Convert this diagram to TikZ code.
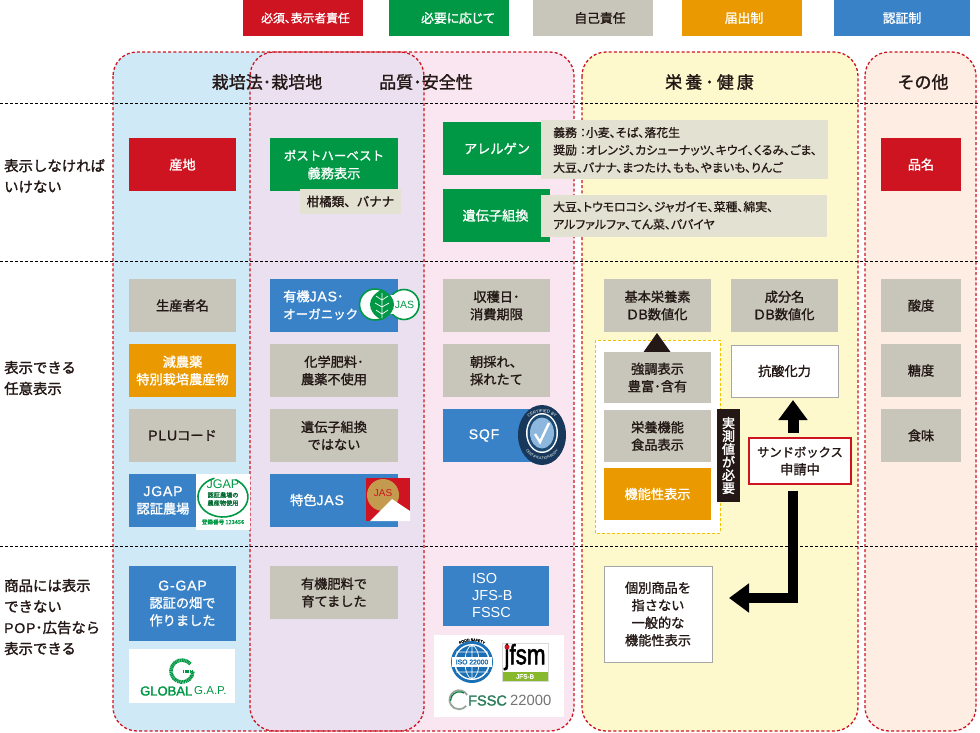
\documentclass[tikz,border=0pt]{standalone}
\usepackage{fontspec}
\usepackage{graphicx}
\usetikzlibrary{arrows.meta,decorations.text}
\setmainfont{Noto Sans CJK JP}[FakeBold=1.4]
\newfontfamily\bfj{Noto Sans CJK JP}[FakeBold=2]
\newfontfamily\pf{Noto Sans CJK JP}[RawFeature=+palt,FakeBold=0.8]
\newfontfamily\pfb{Noto Sans CJK JP}[RawFeature=+palt,FakeBold=1.4]
\newfontfamily\hs{Noto Sans CJK JP}[LetterSpace=18,FakeBold=1.4]
\newfontfamily\lat{Liberation Sans}
\newfontfamily\latb{Liberation Sans}[FakeBold=2]
\newfontfamily\ltw{Liberation Sans}[LetterSpace=6,FakeBold=1]
\newcommand{\lt}[1]{{\ltw\fontsize{14}{17.5}\selectfont #1}}
\definecolor{cred}{HTML}{CE1420}
\definecolor{cgreen}{HTML}{009844}
\definecolor{cgray}{HTML}{C8C6BA}
\definecolor{clight}{HTML}{E3E1D1}
\definecolor{corange}{HTML}{EA9A00}
\definecolor{cblue}{HTML}{3982C7}
\definecolor{pblue}{HTML}{CFE9F7}
\definecolor{ppink}{HTML}{FAE6F0}
\definecolor{plav}{HTML}{EBE0EF}
\definecolor{pyel}{HTML}{FEF8CD}
\definecolor{ppeach}{HTML}{FDEDE3}
\definecolor{ink}{HTML}{231815}
\definecolor{ctan}{HTML}{C49A4F}
\definecolor{cnavy}{HTML}{17385A}
\definecolor{cnavyb}{HTML}{1C4A72}
\definecolor{csky}{HTML}{8DB7DD}
\definecolor{ciso}{HTML}{1A6FB5}
\definecolor{cjfs}{HTML}{88B82B}
\definecolor{cfsg}{HTML}{9AA59D}
\definecolor{cfst}{HTML}{2E7D5B}
\tikzset{
 bxs/.style={inner sep=0pt,outer sep=0pt,align=center,font=\fontsize{13.2}{17.5}\selectfont,text=ink},
 redb/.style={bxs,fill=cred,text=white},
 greenb/.style={bxs,fill=cgreen,text=white},
 grayb/.style={bxs,fill=cgray},
 orangeb/.style={bxs,fill=corange,text=white},
 blueb/.style={bxs,fill=cblue,text=white},
 whiteb/.style={bxs,fill=white,draw=black!35,line width=.7pt},
 lightb/.style={bxs,fill=clight},
 plainw/.style={fill=white,inner sep=0pt,outer sep=0pt},
 rowlab/.style={anchor=west,align=left,inner sep=0pt,font=\fontsize{14.4}{21}\selectfont,text=ink},
 head/.style={inner sep=0pt,font=\fontsize{17}{18}\selectfont,text=ink},
 wtxt/.style={inner sep=0pt,text=white,align=center,font=\fontsize{13.2}{17.5}\selectfont},
 listtxt/.style={anchor=west,align=left,inner sep=0pt,text=ink,font=\pf\fontsize{11.9}{17.5}\selectfont},
 rowline/.style={black,line width=.7pt,dash pattern=on 3pt off 2pt},
 paneldash/.style={draw=cred,line width=1.3pt,dash pattern=on 3pt off 2.2pt},
 bigarrow/.style={line width=10pt,-{Triangle[width=28pt,length=20pt]},black},
}
% name, x0, y0, x1, y1, style, text
\newcommand{\bx}[7]{%
 \pgfmathsetmacro{\cxx}{(#2+#4)/2}\pgfmathsetmacro{\cyy}{(#3+#5)/2}%
 \pgfmathsetmacro{\wdd}{#4-#2}\pgfmathsetmacro{\htt}{#5-#3}%
 \node[#6,minimum width=\wdd pt,minimum height=\htt pt] (#1) at (\cxx,\cyy) {#7};}
\begin{document}
\begin{tikzpicture}[x=1pt,y=-1pt]
\useasboundingbox (0,0) rectangle (980,732);
\fill[white] (0,0) rectangle (980,732);
% panels
\fill[pblue,rounded corners=24pt] (113,52) rectangle (424,731);
\fill[ppink,rounded corners=24pt] (250,52) rectangle (574,731);
\begin{scope}
 \clip[rounded corners=24pt] (113,52) rectangle (424,731);
 \fill[plav,rounded corners=24pt] (250,52) rectangle (574,731);
\end{scope}
\fill[pyel,rounded corners=24pt] (582,52) rectangle (858,731);
\fill[ppeach,rounded corners=24pt] (865,52) rectangle (976,731);
\path[paneldash,rounded corners=24pt] (113,52) rectangle (424,731);
\path[paneldash,rounded corners=24pt] (250,52) rectangle (574,731);
\path[paneldash,rounded corners=24pt] (582,52) rectangle (858,731);
\path[paneldash,rounded corners=24pt] (865,52) rectangle (976,731);
% row lines
\coordinate (r1a) at (0,103); \coordinate (r1b) at (980,103);
\coordinate (r2a) at (0,261); \coordinate (r2b) at (980,261);
\coordinate (r3a) at (0,546); \coordinate (r3b) at (980,546);
\draw[rowline] (r1a) -- (r1b);
\draw[rowline] (r2a) -- (r2b);
\draw[rowline] (r3a) -- (r3b);
% legend
\bx{l1}{243}{0}{363}{36}{redb,font=\pfb\fontsize{11.8}{16}\selectfont}{\hspace*{5pt}必須、表示者責任}
\bx{l2}{389}{0}{509}{36}{greenb,font=\pfb\fontsize{12.8}{16}\selectfont}{\hspace*{18pt}必要に応じて}
\bx{l3}{533}{0}{653}{36}{grayb,font=\fontsize{12.8}{16}\selectfont}{\hspace*{14pt}自己責任}
\bx{l4}{682}{0}{802}{36}{orangeb,font=\fontsize{12.8}{16}\selectfont}{\hspace*{4pt}届出制}
\bx{l5}{834}{0}{970}{36}{blueb,font=\fontsize{12.8}{16}\selectfont}{認証制}
% headers
\node[head] (h1) at (267,82) {栽培法･栽培地};
\node[head] (h2) at (426,82) {品質･安全性};
\node[head,font=\hs\fontsize{17}{18}\selectfont] (h3) at (709.5,82) {栄養･健康};
\node[head] (h4) at (923,82) {その他};
% row labels
\node[rowlab] (t1) at (4,176) {表示しなければ\\いけない};
\node[rowlab] (t2) at (4,378) {表示できる\\任意表示};
\node[rowlab] (t3) at (4,617) {商品には表示\\できない\\\lt{POP}･広告なら\\表示できる};
% row 1
\bx{a1}{129}{138}{236}{191}{redb}{産地}
\bx{a2}{270}{138}{398}{191}{greenb,font=\fontsize{12.5}{18}\selectfont}{ポストハーベスト\\\fontsize{13.2}{18}\selectfont 義務表示}
\bx{a3}{300}{189}{401}{214}{lightb,font=\fontsize{12.5}{17.5}\selectfont}{柑橘類、バナナ}
\bx{a4}{443}{122}{541}{175}{greenb}{\hspace*{10pt}アレルゲン}
\bx{a5}{541}{120}{828}{179}{lightb}{}
\node[listtxt] (a5t) at (553,150) {義務\hspace{3pt}：小麦、そば、落花生\\奨励\hspace{3pt}：オレンジ、カシューナッツ、キウイ、くるみ、ごま、\\大豆、バナナ、まつたけ、もも、やまいも、りんご};
\bx{a6}{443}{189}{550}{242}{greenb}{\hspace*{-2pt}遺伝子組換}
\bx{a7}{541}{195}{827}{237}{lightb}{}
\node[listtxt] (a7t) at (553,215.5) {大豆、トウモロコシ、ジャガイモ、菜種、綿実、\\アルファルファ、てん菜、パパイヤ};
\bx{a8}{881}{138}{961}{191}{redb}{品名}
% row 2 col 1
\bx{b1}{129}{279}{236}{332}{grayb}{生産者名}
\bx{b2}{129}{344}{236}{397}{orangeb}{減農薬\\特別栽培農産物}
\bx{b3}{129}{409}{236}{462}{grayb}{\lt{PLU}コード}
\bx{b4}{129}{474}{197}{527}{blueb}{\lt{JGAP}\\認証農場}
% JGAP logo
\node[plainw,minimum width=54pt,minimum height=56pt] (jg) at (223,502) {};
\draw[cgreen,line width=1.6pt] (214.4,478.2) arc[start angle=110,end angle=420,x radius=25pt,y radius=20pt];
\node[inner sep=0pt,text=cgreen,font=\lat\fontsize{12.5}{12}\selectfont] (jg1) at (223,484) {JGAP};
\node[inner sep=0pt,text=cgreen!70!black,align=center,font=\pf\fontsize{6.2}{8}\selectfont] (jg2) at (223,499) {認証農場の\\農産物使用};
\node[inner sep=0pt,text=cgreen,font=\pf\fontsize{5.6}{6}\selectfont] (jg3) at (223,522) {登録番号 123456};
% row 2 col 2
\bx{c1}{270}{279}{398}{332}{blueb}{}
\node[wtxt,anchor=west,align=left] (c1t) at (283,305) {有機\lt{JAS}･\\\fontsize{12.5}{17.5}\selectfont オーガニック};
\filldraw[fill=white,draw=cgreen,line width=1.6pt] (375,304.5) circle[radius=15.5pt];
\filldraw[fill=white,draw=cgreen,line width=1.6pt] (404,304.5) circle[radius=15pt];
\fill[white] (376,295) rectangle (402,314);
\fill[cgreen] (382,289.5) .. controls (398,297) and (398,312) .. (382,320) .. controls (366,312) and (366,297) .. (382,289.5) -- cycle;
\draw[white,line width=.7pt] (382,293) -- (382,318) (382,300) -- (376,296) (382,300) -- (388,296) (382,307) -- (375,303) (382,307) -- (389,303) (382,314) -- (376,310) (382,314) -- (388,310);
\node[inner sep=0pt,text=cgreen,font=\lat\fontsize{10.5}{10}\selectfont] (jas) at (404.5,305) {JAS};
\bx{c2}{270}{344}{398}{397}{grayb}{化学肥料･\\農薬不使用}
\bx{c3}{270}{409}{398}{462}{grayb}{遺伝子組換\\ではない}
\bx{c4}{270}{474}{398}{527}{blueb}{}
\node[wtxt] (c4t) at (317,500) {特色\lt{JAS}};
\fill[cred] (366,478) rectangle (410,521);
\fill[ctan] (383,495) circle[radius=16pt];
\fill[white] (370,521) -- (392,499) -- (410,511) -- (410,521) -- cycle;
\node[inner sep=0pt,text=cred,font=\lat\fontsize{10}{10}\selectfont] (jass) at (383,493) {JAS};
% row 2 col 3
\bx{d1}{443}{279}{550}{332}{grayb}{収穫日･\\消費期限}
\bx{d2}{443}{344}{550}{397}{grayb}{朝採れ、\\採れたて}
\bx{d3}{443}{409}{550}{462}{blueb}{\hspace*{-25pt}\lt{SQF}}
\fill[cnavy] (542,435) ellipse[x radius=24pt,y radius=30pt];
\fill[white] (542,433) ellipse[x radius=16pt,y radius=20pt];
\fill[cnavyb] (542,433) ellipse[x radius=14.5pt,y radius=18.5pt];
\fill[csky] (542,433) ellipse[x radius=12pt,y radius=15.5pt];
\draw[white,line width=2.4pt] (535,434) -- (540,442) -- (549,423);
\path[decorate,decoration={text along path,text={|\lat\fontsize{4.2}{4}\selectfont\color{white}|CERTIFIED BY},text align=center}] (524,425) .. controls (530,408) and (554,408) .. (560,425);
\path[decorate,decoration={text along path,text={|\lat\fontsize{3.6}{4}\selectfont\color{white}|CERTIFICATION BODY},text align=center}] (522,440) .. controls (526,466) and (558,466) .. (562,440);
% row 2 col 4
\bx{e1}{604}{279}{711}{332}{grayb}{基本栄養素\\\lt{DB}数値化}
\bx{e2}{731}{279}{838}{332}{grayb}{成分名\\\lt{DB}数値化}
\draw[fill=white,draw=corange!60!yellow,line width=.9pt,dash pattern=on 3pt off 2pt] (595,340) rectangle (720,533);
\fill[ink] (657,333) -- (670.5,352) -- (643.5,352) -- cycle;
\bx{e3}{604}{352}{711}{403}{grayb}{強調表示\\豊富･含有}
\bx{e4}{604}{410}{711}{462}{grayb}{栄養機能\\食品表示}
\bx{e5}{604}{468}{711}{520}{orangeb}{機能性表示}
\bx{e6}{717}{409}{740}{502}{bxs,fill=ink,text=white,font=\bfj\fontsize{13}{13}\selectfont}{実\\測\\値\\が\\必\\要}
\bx{e7}{731}{345}{838}{397}{whiteb}{抗酸化力}
\bx{sb}{749}{438}{851}{484}{bxs,fill=white,draw=cred,line width=1.4pt,font=\fontsize{12.3}{17.5}\selectfont}{サンドボックス\\\fontsize{13.2}{17.5}\selectfont 申請中}
\bx{e8}{604}{566}{712}{662}{whiteb}{個別商品を\\指さない\\一般的な\\機能性表示}
\coordinate (up0) at (793,433);
\coordinate (up1) at (793,400);
\coordinate (dn0) at (793,491);
\coordinate (dn1) at (793,598);
\coordinate (dn2) at (729,598);
\draw[bigarrow,line width=11pt] (up0) -- (up1);
\draw[bigarrow] (dn0) -- (dn1) -- (dn2);
% row 2 col 5
\bx{f1}{881}{279}{961}{332}{grayb}{酸度}
\bx{f2}{881}{344}{961}{397}{grayb}{糖度}
\bx{f3}{881}{409}{961}{462}{grayb}{食味}
% row 3
\bx{g1}{129}{566}{236}{641}{blueb}{\lt{G-GAP}\\認証の畑で\\作りました}
\node[plainw,minimum width=106pt,minimum height=54pt] (gl) at (182,676) {};
\draw[cgreen,line width=3.6pt,dash pattern=on 1.2pt off .5pt] (190.4,664) arc[start angle=40,end angle=360,radius=11pt];
\draw[cgreen,line width=2.6pt,dash pattern=on 1.2pt off .5pt] (183,671.5) -- (193,671.5);
\node[inner sep=0pt,text=cgreen,anchor=west,font=\latb\fontsize{13}{12}\selectfont] (gl2) at (140,691) {GLOBAL};
\node[inner sep=0pt,text=cgreen,anchor=west,font=\lat\fontsize{11.5}{12}\selectfont] (gl3) at (194,691) {G.A.P.};
\bx{g2}{270}{566}{398}{619}{grayb}{有機肥料で\\育てました}
\bx{g3}{443}{566}{549}{626}{blueb}{}
\node[anchor=west,align=left,inner sep=0pt,text=white,font=\lat\fontsize{14.5}{17}\selectfont] (g3t) at (472,595) {ISO\\JFS-B\\FSSC};
\node[plainw,minimum width=130pt,minimum height=82pt] (lg) at (499,676) {};
% ISO logo
\fill[ciso] (472,662) circle[radius=21pt];
\fill[white] (472,662) circle[radius=18pt];
\fill[ciso] (472,662) circle[radius=16.5pt];
\draw[white,line width=.7pt] (472,662) ellipse[x radius=7pt,y radius=16.5pt] (456,652) -- (488,652) (456,672) -- (488,672) (472,645.5) -- (472,678.5);
\fill[white] (452,657) rectangle (492,667);
\node[inner sep=0pt,text=ciso,font=\latb\fontsize{6.8}{7}\selectfont] (iso) at (472,662) {ISO 22000};
\path[decorate,decoration={text along path,text={|\latb\fontsize{3.6}{4}\selectfont\color{black}|FOOD SAFETY},text align=center}] (457,647) .. controls (463,639) and (481,639) .. (487,647);
% jfsm logo
\draw[fill=white,draw=black!15] (502,643) rectangle (548,681);
\fill[cjfs] (502.5,672) rectangle (547.5,681);
\node[inner sep=0pt,text=black,font=\latb\fontsize{28}{24}\selectfont] (jf) at (525,657) {\scalebox{.8}[1]{jfsm}};
\fill[cred] (507,647) circle[radius=2.5pt];
\node[inner sep=0pt,text=white,font=\latb\fontsize{6.5}{7}\selectfont] (jf2) at (525,676.5) {JFS-B};
% FSSC logo
\draw[cfsg,line width=1.8pt] (467.2,695) arc[start angle=30,end angle=320,radius=9.5pt];
\draw[cgreen!80!black,line width=1.2pt] (464,693) arc[start angle=60,end angle=180,radius=9pt];
\node[inner sep=0pt,anchor=west,text=cfst,font=\latb\fontsize{14.5}{15}\selectfont] (fs) at (468,700.5) {FSSC};
\node[inner sep=0pt,anchor=west,text=black!55,font=\lat\fontsize{14.8}{15}\selectfont] (fs2) at (510,700.5) {22000};
\end{tikzpicture}
\end{document}
